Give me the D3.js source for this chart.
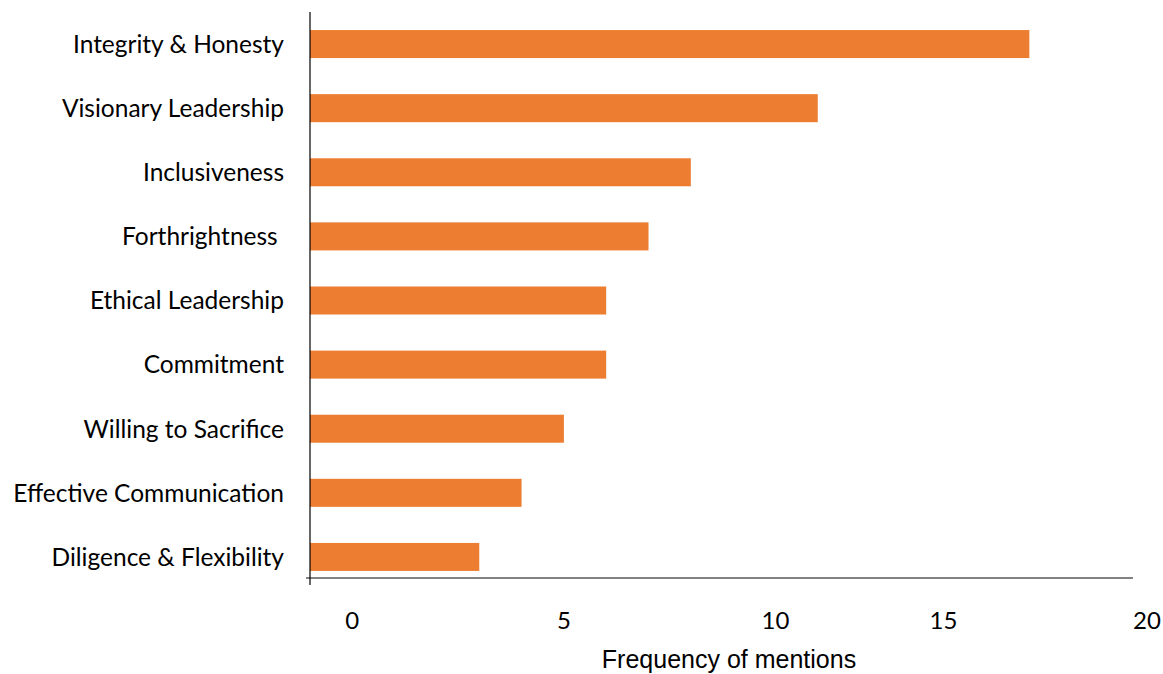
<!DOCTYPE html>
<html>
<head>
<meta charset="utf-8">
<script src="https://cdn.jsdelivr.net/npm/d3@7/dist/d3.min.js"></script>
<style>
  html, body { margin: 0; padding: 0; background: #ffffff; }
  svg { display: block; }
</style>
</head>
<body>
<svg id="chart" width="1163" height="674"></svg>
<script>
// ---- data ----
const categories = [
  "Integrity & Honesty",
  "Visionary Leadership",
  "Inclusiveness",
  "Forthrightness ",
  "Ethical Leadership",
  "Commitment",
  "Willing to Sacrifice",
  "Effective Communication",
  "Diligence & Flexibility"
];
const mentions = [16, 11, 8, 7, 6, 6, 5, 4, 3];
const tickLabels = ["0", "5", "10", "15", "20"];
const tickPositions = [0, 5, 10, 13.97, 18.78];
const xDomain = [-1, 18.45];
const xTitle = "Frequency of mentions";

// ---- layout ----
const svg = d3.select("#chart");
const plotLeft = 310, plotRight = 1133, plotTop = 12, plotBottom = 589, axisY = 578;

const x = d3.scaleLinear().domain(xDomain).range([plotLeft, plotRight]);
const y = d3.scaleBand().domain(categories).range([plotTop, plotBottom])
  .paddingInner(0.563).paddingOuter(0.2815);

// bars
svg.append("g").selectAll("rect")
  .data(categories)
  .join("rect")
  .attr("x", x(xDomain[0]))
  .attr("y", d => y(d))
  .attr("width", (d, i) => x(mentions[i]) - x(xDomain[0]))
  .attr("height", y.bandwidth())
  .attr("fill", "#ED7D31");

// x axis line
svg.append("line")
  .attr("x1", x(xDomain[0]) - 4).attr("x2", x(xDomain[1]))
  .attr("y1", axisY).attr("y2", axisY)
  .attr("stroke", "#595959").attr("stroke-width", 1.5);

// y axis line
svg.append("line")
  .attr("x1", plotLeft).attr("x2", plotLeft)
  .attr("y1", plotTop).attr("y2", 585)
  .attr("stroke", "#000000").attr("stroke-width", 1.2);

// category labels
svg.append("g").selectAll("text")
  .data(categories)
  .join("text")
  .attr("x", 284)
  .attr("y", d => y(d) + y.bandwidth() / 2 + 8.8)
  .attr("text-anchor", "end")
  .attr("font-family", "Lato, 'Open Sans', sans-serif")
  .attr("font-size", 24.5)
  .attr("fill", "#000")
  .style("white-space", "pre")
  .text(d => d);

// tick labels
svg.append("g").selectAll("text")
  .data(tickLabels)
  .join("text")
  .attr("x", (d, i) => x(tickPositions[i]))
  .attr("y", 629)
  .attr("text-anchor", "middle")
  .attr("font-family", "Lato, 'Open Sans', sans-serif")
  .attr("font-size", 24)
  .attr("fill", "#000")
  .text(d => d);

// x title
svg.append("text")
  .attr("x", 729).attr("y", 668)
  .attr("text-anchor", "middle")
  .attr("font-family", "'Liberation Sans', Arial, sans-serif")
  .attr("font-size", 25)
  .attr("fill", "#000")
  .text(xTitle);
</script>
</body>
</html>
